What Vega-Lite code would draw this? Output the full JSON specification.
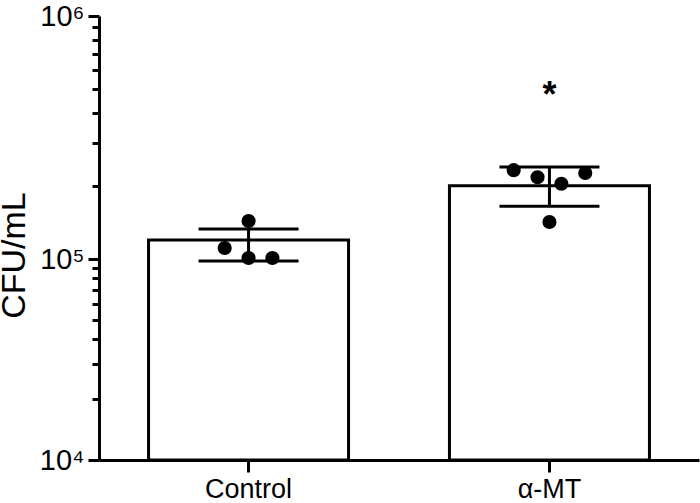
{
  "$schema": "https://vega.github.io/schema/vega-lite/v6.json",
  "width": 600,
  "height": 444,
  "autosize": "none",
  "padding": {"left": 99, "top": 16, "right": 1, "bottom": 43},
  "background": "white",
  "config": {
    "view": {"stroke": null},
    "font": "Liberation Sans",
    "tick": {"opacity": 1},
    "axis": {"grid": false, "domainColor": "black", "domainWidth": 3, "tickColor": "black", "tickWidth": 3, "labelColor": "black", "titleColor": "black", "labelFont": "Liberation Sans", "titleFont": "Liberation Sans", "titleFontWeight": "normal"}
  },
  "datasets": {
    "summary": [
      {"group": "Control", "mean": 119700, "lo": 97700, "hi": 132800},
      {"group": "α-MT", "mean": 200000, "lo": 165000, "hi": 239000}
    ],
    "points": [
      {"group": "Control", "cfu": 143300, "lane": 0},
      {"group": "Control", "cfu": 111000, "lane": -1},
      {"group": "Control", "cfu": 101000, "lane": 0},
      {"group": "Control", "cfu": 101000, "lane": 1},
      {"group": "α-MT", "cfu": 232000, "lane": -1.5},
      {"group": "α-MT", "cfu": 217000, "lane": -0.5},
      {"group": "α-MT", "cfu": 204000, "lane": 0.5},
      {"group": "α-MT", "cfu": 226000, "lane": 1.5},
      {"group": "α-MT", "cfu": 142000, "lane": 0}
    ],
    "stars": [
      {"group": "α-MT", "pos": 510000, "label": "*"}
    ]
  },
  "encoding": {
    "x": {
      "field": "group", "type": "nominal", "sort": ["Control", "α-MT"],
      "scale": {"paddingInner": 0.334, "paddingOuter": 0.164},
      "axis": {"title": null, "labelAngle": 0, "labelFontSize": 27, "tickSize": 12, "labelPadding": 4, "domainWidth": 3}
    }
  },
  "layer": [
    {
      "data": {"name": "summary"},
      "mark": {"type": "bar", "fill": "white", "stroke": "black", "strokeWidth": 3, "width": 200},
      "encoding": {
        "y": {
          "field": "mean", "type": "quantitative",
          "scale": {"type": "log", "domain": [10000, 100000, 1000000], "range": [444, 243, 0]},
          "axis": {
            "title": "CFU/mL", "titleFontSize": 34, "titleX": -75, "titleY": 239, "titleBaseline": "alphabetic",
            "values": [10000, 20000, 30000, 40000, 50000, 60000, 70000, 80000, 90000, 100000, 200000, 300000, 400000, 500000, 600000, 700000, 800000, 900000, 1000000],
            "labelExpr": "datum.value == 1000000 ? '10⁶\u00a0' : datum.value == 100000 ? '10⁵\u00a0' : datum.value == 10000 ? '10⁴\u00a0' : ''",
            "labelOverlap": false,
            "labelFontSize": 29,
            "labelPadding": 4,
            "tickSize": {"condition": {"test": "datum.value == 10000 || datum.value == 100000 || datum.value == 1000000", "value": 11}, "value": 7}
          }
        },
        "y2": {"datum": 10000}
      }
    },
    {
      "data": {"name": "summary"},
      "mark": {"type": "rule", "color": "black", "strokeWidth": 3},
      "encoding": {
        "y": {"field": "lo", "type": "quantitative"},
        "y2": {"field": "hi"}
      }
    },
    {
      "data": {"name": "summary"},
      "mark": {"type": "tick", "color": "black", "opacity": 1, "thickness": 3, "size": 100, "orient": "horizontal"},
      "encoding": {
        "y": {"field": "lo", "type": "quantitative"}
      }
    },
    {
      "data": {"name": "summary"},
      "mark": {"type": "tick", "color": "black", "opacity": 1, "thickness": 3, "size": 100, "orient": "horizontal"},
      "encoding": {
        "y": {"field": "hi", "type": "quantitative"}
      }
    },
    {
      "data": {"name": "points"},
      "mark": {"type": "circle", "color": "black", "opacity": 1, "size": 200},
      "encoding": {
        "y": {"field": "cfu", "type": "quantitative"},
        "xOffset": {"field": "lane", "type": "quantitative", "scale": {"domain": [-4.2, 4.2]}}
      }
    },
    {
      "data": {"name": "stars"},
      "mark": {"type": "text", "fontSize": 36, "fontWeight": "bold", "color": "black", "baseline": "middle", "dy": 9},
      "encoding": {
        "y": {"field": "pos", "type": "quantitative"},
        "text": {"field": "label"}
      }
    }
  ]
}
